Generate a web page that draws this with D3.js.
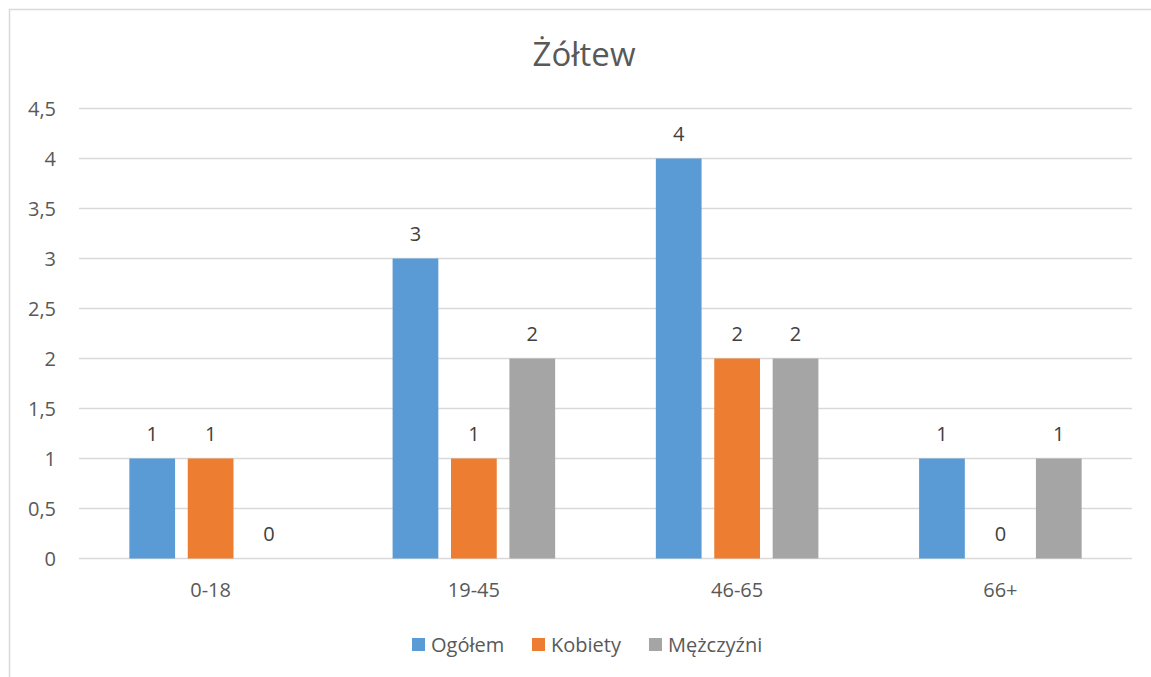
<!DOCTYPE html>
<html>
<head>
<meta charset="utf-8">
<script src="https://cdn.jsdelivr.net/npm/d3@7"></script>
<style>
  body { margin: 0; background: #fff; }
  svg text { font-family: "Open Sans", "Noto Sans", sans-serif; }
</style>
</head>
<body>
<svg width="1151" height="677"></svg>
<script>
const title = "Żółtew";
const categories = ["0-18", "19-45", "46-65", "66+"];
const seriesNames = ["Ogółem", "Kobiety", "Mężczyźni"];
const ogolem = [1, 3, 4, 1];
const kobiety = [1, 1, 2, 0];
const mezczyzni = [0, 2, 2, 1];
const yTicks = [0, 0.5, 1, 1.5, 2, 2.5, 3, 3.5, 4, 4.5];
const colors = ["#5b9bd5", "#ed7d31", "#a5a5a5"];

const values = [ogolem, kobiety, mezczyzni];

const svg = d3.select("svg"),
    width = +svg.attr("width"),
    height = +svg.attr("height");

// chart frame (right/bottom edges fall outside the picture)
svg.append("rect")
    .attr("x", 9.5).attr("y", 9.5)
    .attr("width", width + 20).attr("height", height + 20)
    .attr("fill", "#fff")
    .attr("stroke", "#d9d9d9")
    .attr("stroke-width", 1.5);

const plot = {left: 79, right: 1132, top: 108.5, bottom: 558.5};

const y = d3.scaleLinear()
    .domain([0, 4.5])
    .range([plot.bottom, plot.top]);

const x0 = d3.scaleBand()
    .domain(categories)
    .range([plot.left, plot.right])
    .padding(0);

const x1 = d3.scaleBand()
    .domain(seriesNames)
    .range([0, x0.bandwidth()])
    .paddingInner(0.217)
    .paddingOuter(0.862);

const fmt = v => String(v).replace(".", ",");

// gridlines
svg.append("g")
    .selectAll("line")
    .data(yTicks)
    .enter().append("line")
    .attr("x1", plot.left)
    .attr("x2", plot.right)
    .attr("y1", d => y(d))
    .attr("y2", d => y(d))
    .attr("stroke", "#d9d9d9")
    .attr("stroke-width", 1.3);

// y tick labels
svg.append("g")
    .selectAll("text")
    .data(yTicks)
    .enter().append("text")
    .attr("x", 56)
    .attr("y", d => y(d))
    .attr("dy", "0.35em")
    .attr("text-anchor", "end")
    .attr("fill", "#595959")
    .style("font-size", "20px")
    .text(fmt);

// bars
const rows = [];
categories.forEach((c, i) => {
    seriesNames.forEach((s, j) => {
        rows.push({cat: c, series: s, value: values[j][i], color: colors[j]});
    });
});

svg.append("g")
    .selectAll("rect")
    .data(rows)
    .enter().append("rect")
    .attr("x", d => x0(d.cat) + x1(d.series))
    .attr("width", x1.bandwidth())
    .attr("y", d => y(d.value))
    .attr("height", d => y(0) - y(d.value))
    .attr("fill", d => d.color);

// data labels
svg.append("g")
    .selectAll("text")
    .data(rows)
    .enter().append("text")
    .attr("x", d => x0(d.cat) + x1(d.series) + x1.bandwidth() / 2)
    .attr("y", d => y(d.value) - 18)
    .attr("text-anchor", "middle")
    .attr("fill", "#404040")
    .style("font-size", "20px")
    .text(d => d.value);

// x labels
svg.append("g")
    .selectAll("text")
    .data(categories)
    .enter().append("text")
    .attr("x", d => x0(d) + x0.bandwidth() / 2)
    .attr("y", 597)
    .attr("text-anchor", "middle")
    .attr("fill", "#595959")
    .style("font-size", "20px")
    .text(d => d);

// title
svg.append("text")
    .attr("x", 584)
    .attr("y", 66)
    .attr("text-anchor", "middle")
    .attr("fill", "#595959")
    .style("font-size", "33px")
    .text(title);

// legend
const legendX = [412, 532, 649];
const legend = svg.append("g")
    .selectAll("g")
    .data(seriesNames)
    .enter().append("g")
    .attr("transform", (d, i) => `translate(${legendX[i]},638)`);

legend.append("rect")
    .attr("width", 13)
    .attr("height", 13)
    .attr("fill", (d, i) => colors[i]);

legend.append("text")
    .attr("x", 19)
    .attr("y", 14)
    .attr("fill", "#595959")
    .style("font-size", "20px")
    .text(d => d);
</script>
</body>
</html>
